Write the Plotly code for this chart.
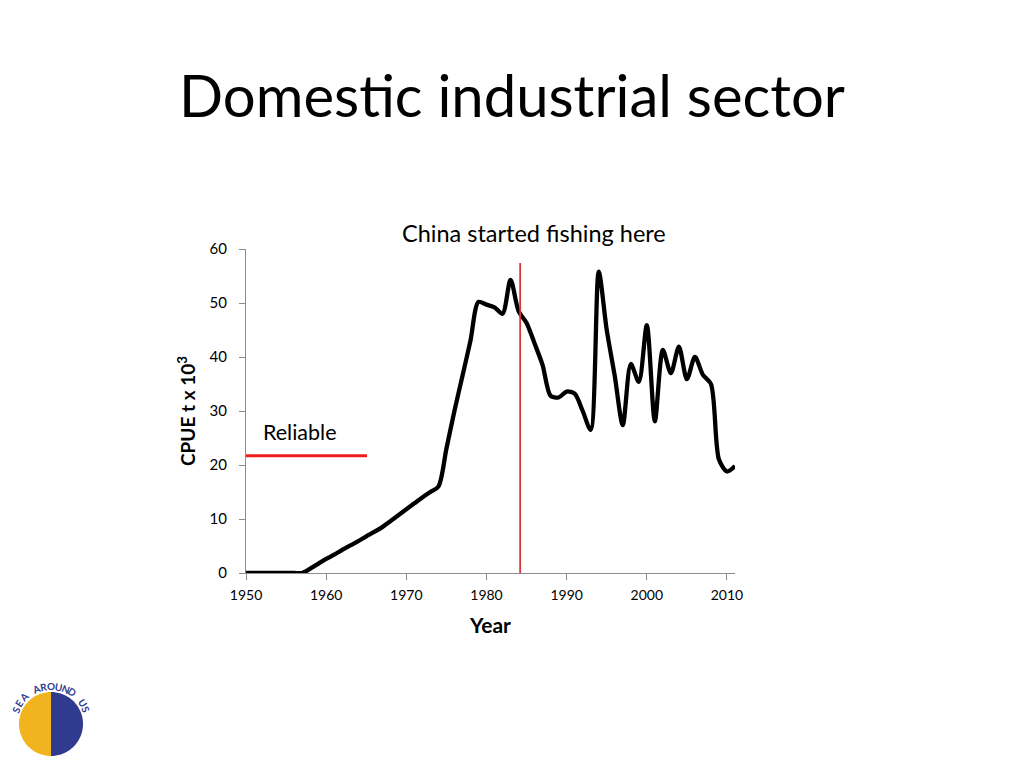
import plotly.graph_objects as go
import math

years = list(range(1950, 2012))
cpue = [0, 0, 0, 0, 0, 0, 0, 0,
        0.8, 1.7, 2.6, 3.4, 4.3, 5.1, 5.9, 6.8, 7.6, 8.5,
        9.6, 10.7, 11.8, 12.9, 14.0, 15.0, 16.0,
        23.0, 30.0, 36.5, 43.0, 50.2, 49.7, 49.2, 48.0, 54.3, 48.5,
        46.3, 42.5, 38.5, 32.8, 32.5, 33.6, 33.2, 30.0, 26.5, 55.8,
        45.0, 36.5, 27.4, 38.7, 35.4, 45.9, 28.1, 41.3, 37.0, 41.9,
        35.9, 40.0, 36.7, 35.0, 21.0, 18.8, 19.8]

reliable_years = [1950, 1965.1]
reliable_level = [21.7, 21.7]
china_year = 1984.2
china_top = 57.4

font = "Lato, Carlito, Calibri, sans-serif"

fig = go.Figure()
fig.add_trace(go.Scatter(x=years, y=cpue, mode="lines",
                         line=dict(color="black", width=4.3, shape="spline", smoothing=0.8),
                         showlegend=False, hoverinfo="x+y"))
fig.add_trace(go.Scatter(x=reliable_years, y=reliable_level, mode="lines",
                         line=dict(color="#ee1c1c", width=3), showlegend=False))
fig.add_trace(go.Scatter(x=[china_year, china_year], y=[0, china_top], mode="lines",
                         line=dict(color="#d9383a", width=1.8), showlegend=False))

fig.add_annotation(x=china_year, y=china_top, yshift=14, xshift=14,
                   text="China started fishing here", showarrow=False,
                   font=dict(size=23.5, color="black", family=font),
                   xanchor="center", yanchor="bottom")
fig.add_annotation(x=1951.9, y=21.7, yshift=9, text="Reliable", showarrow=False,
                   font=dict(size=21.5, color="black", family=font),
                   xanchor="left", yanchor="bottom")

# the page body has an 8px margin, so the figure is shrunk by 8px to fit the window
fig.update_layout(
    width=1016, height=760,
    paper_bgcolor="white", plot_bgcolor="white",
    margin=dict(l=238, r=289, t=241, b=195),
    font=dict(family=font, color="black"),
    title=dict(text="Domestic industrial sector",
               x=(512 - 8) / 1016, xref="container", xanchor="center",
               y=1 - (97 - 8) / 760, yref="container", yanchor="middle",
               font=dict(size=58, family=font, color="black")),
)

fig.update_xaxes(range=[1950, 2011], tickvals=[1950, 1960, 1970, 1980, 1990, 2000, 2010],
                 showgrid=False, zeroline=False, showline=True, linecolor="#8c8c8c",
                 linewidth=1, ticks="outside", ticklen=6, tickcolor="#8c8c8c",
                 ticklabelstandoff=3,
                 tickfont=dict(size=14, color="black"),
                 title=dict(text="<b>Year</b>", font=dict(size=21), standoff=16))
fig.update_yaxes(range=[0, 60], tickvals=[0, 10, 20, 30, 40, 50, 60],
                 showgrid=False, zeroline=False, showline=True, linecolor="#8c8c8c",
                 linewidth=1, ticks="outside", ticklen=6, tickcolor="#8c8c8c",
                 ticklabelstandoff=9,
                 tickfont=dict(size=15, color="black"),
                 title=dict(text="<b>CPUE t x 10<sup>3</sup></b>", font=dict(size=19), standoff=8))

# rough stand-in for the logo in the lower left corner (screen pixel coords -> paper)
cx, cy, r = 51, 724, 32
def px(x):
    return (x - 246) / 489
def py(y):
    return (573 - y) / 324
def half(start, stop):
    pts = []
    for i in range(41):
        a = math.radians(start + (stop - start) * i / 40)
        pts.append(f"{px(cx + r * math.cos(a)):.4f},{py(cy - r * math.sin(a)):.4f}")
    return "M " + " L ".join(pts) + " Z"
fig.add_shape(type="path", xref="paper", yref="paper", path=half(90, 270),
              fillcolor="#f2b41e", line=dict(width=0))
fig.add_shape(type="path", xref="paper", yref="paper", path=half(-90, 90),
              fillcolor="#2f3b8f", line=dict(width=0))

logo_text = "SEA AROUND US"
R = 38
for i, ch in enumerate(logo_text):
    if ch == " ":
        continue
    a = 158 - i * (136 / (len(logo_text) - 1))
    ar = math.radians(a)
    fig.add_annotation(x=px(cx + R * math.cos(ar)), y=py(cy - R * math.sin(ar)),
                       xref="paper", yref="paper", text=f"<b>{ch}</b>", showarrow=False,
                       xanchor="center", yanchor="middle",
                       textangle=90 - a, font=dict(size=10, color="#2f3b8f", family=font))

fig.write_html("out.html")
